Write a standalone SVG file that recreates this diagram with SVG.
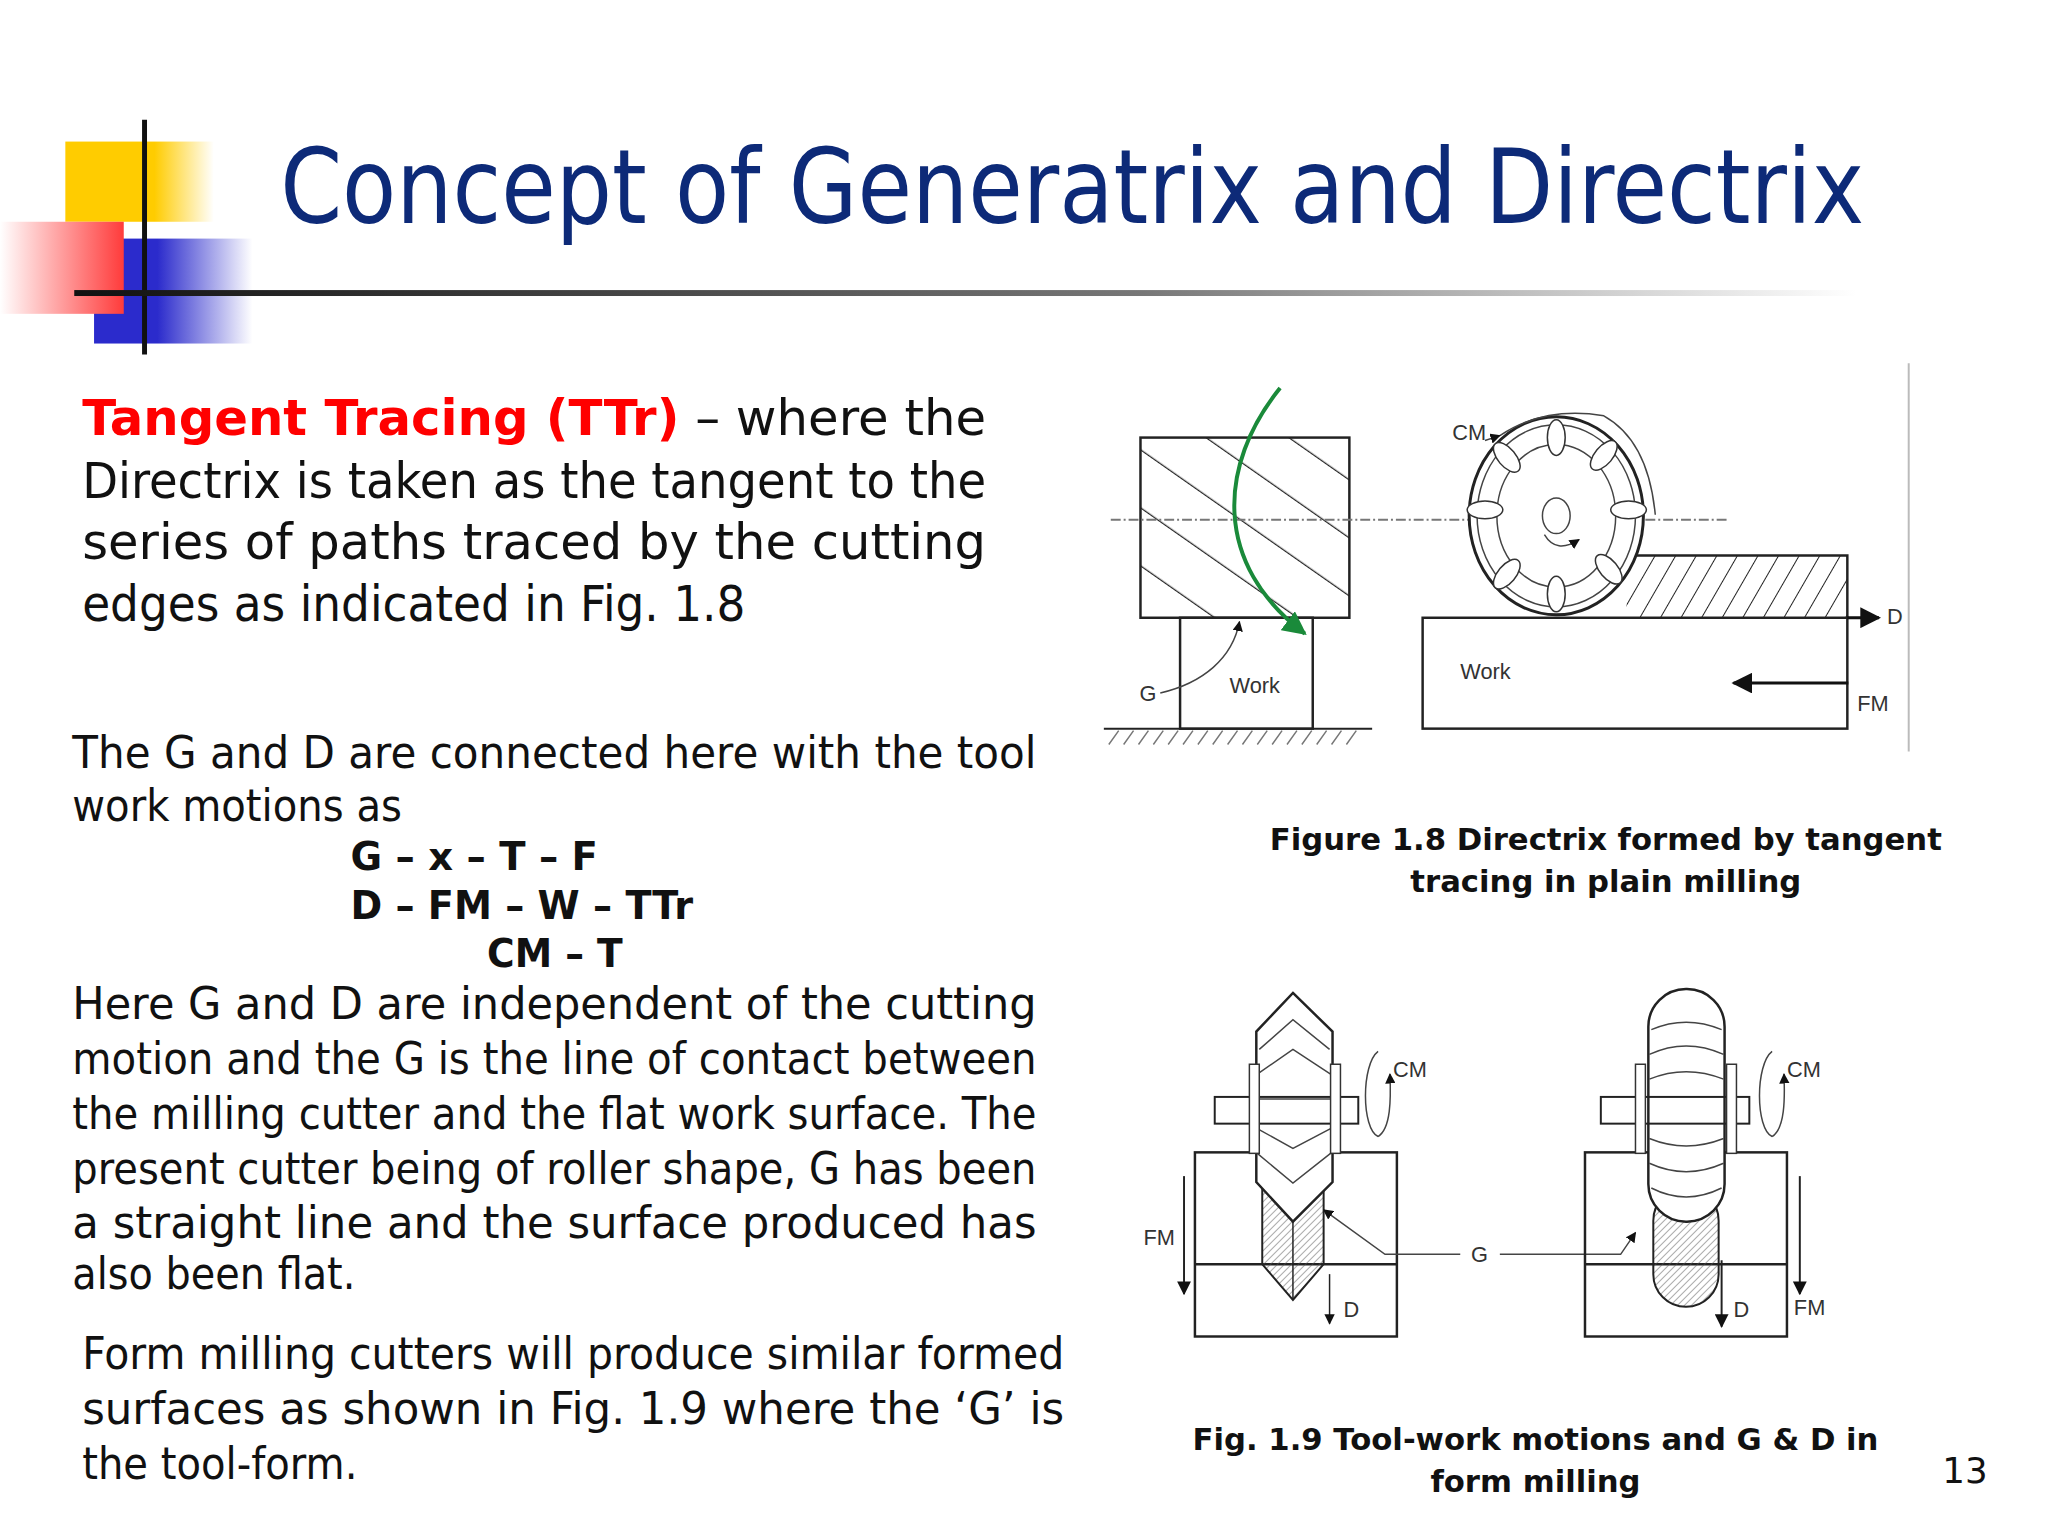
<svg xmlns="http://www.w3.org/2000/svg" width="2048" height="1536" viewBox="0 0 2048 1536">
<defs>
<linearGradient id="hl" x1="0" x2="1"><stop offset="0" stop-color="#111"/><stop offset="0.6" stop-color="#777"/><stop offset="1" stop-color="#fff"/></linearGradient>
<linearGradient id="red" x1="1" x2="0"><stop offset="0" stop-color="#ff3b3b"/><stop offset="1" stop-color="#fff"/></linearGradient>
<linearGradient id="yel" x1="0" x2="1"><stop offset="0.6" stop-color="#ffcc00"/><stop offset="1" stop-color="#fff"/></linearGradient>
<linearGradient id="blu" x1="0" x2="1"><stop offset="0.4" stop-color="#2b2bcc"/><stop offset="1" stop-color="#fff"/></linearGradient>
<marker id="ah" viewBox="0 0 10 10" refX="9" refY="5" markerWidth="7" markerHeight="7" orient="auto"><path d="M0,0 L10,5 L0,10 z" fill="#111"/></marker>
<marker id="ag" viewBox="0 0 10 10" refX="9" refY="5" markerWidth="6" markerHeight="6" orient="auto"><path d="M0,0 L10,5 L0,10 z" fill="#1a8a3a"/></marker>
<pattern id="hatchL" width="48" height="48" patternUnits="userSpaceOnUse" patternTransform="rotate(-55)"><line x1="0" y1="0" x2="0" y2="48" stroke="#222" stroke-width="2.5"/></pattern>
<pattern id="hatch" width="18" height="18" patternUnits="userSpaceOnUse" patternTransform="rotate(30)"><line x1="0" y1="0" x2="0" y2="18" stroke="#222" stroke-width="2"/></pattern>
<pattern id="fine" width="5" height="5" patternUnits="userSpaceOnUse" patternTransform="rotate(45)"><line x1="0" y1="0" x2="0" y2="5" stroke="#555" stroke-width="1"/></pattern>
</defs>
<style>
.t{font-family:"DejaVu Sans","Liberation Sans",sans-serif;fill:#111}
.b{font-size:51px}
.s{font-size:45px}
.bold{font-weight:bold}
.cap{font-family:"DejaVu Sans",sans-serif;font-weight:bold;font-size:31px;fill:#111;text-anchor:middle}
.l{fill:none;stroke:#222;stroke-width:2.5}
.th{fill:none;stroke:#444;stroke-width:1.5}
.lab{font-family:"Liberation Sans",sans-serif;font-size:22px;fill:#333}
</style>
<rect width="2048" height="1536" fill="#fff"/>
<g transform="scale(0.99)">
<g id="deco">
<rect x="66" y="143" width="150" height="81" fill="url(#yel)"/>
<rect x="95" y="241" width="160" height="106" fill="url(#blu)"/>
<rect x="0" y="224" width="125" height="93" fill="url(#red)"/>
<line x1="146" y1="121" x2="146" y2="358" stroke="#111" stroke-width="5"/>
<rect x="75" y="293" width="1800" height="6" fill="url(#hl)"/>
</g>
<text id="title" x="283" y="225" font-family="DejaVu Sans,sans-serif" font-size="104" fill="#0d2a78" textLength="1600" lengthAdjust="spacingAndGlyphs">Concept of Generatrix and Directrix</text>
<g id="para1" class="t b">
<text x="83" y="439" textLength="913" lengthAdjust="spacingAndGlyphs"><tspan fill="#ff0000" font-weight="bold">Tangent Tracing (TTr)</tspan> – where the</text>
<text x="83" y="503" textLength="913" lengthAdjust="spacingAndGlyphs">Directrix is taken as the tangent to the</text>
<text x="83" y="565" textLength="913" lengthAdjust="spacingAndGlyphs">series of paths traced by the cutting</text>
<text x="83" y="627" textLength="670" lengthAdjust="spacingAndGlyphs">edges as indicated in Fig. 1.8</text>
</g>
<g id="para2" class="t s">
<text x="73" y="776" textLength="974" lengthAdjust="spacingAndGlyphs">The G and D are connected here with the tool</text>
<text x="73" y="829" textLength="333" lengthAdjust="spacingAndGlyphs">work motions as</text>
<text x="354" y="879" class="bold" font-size="40" textLength="250" lengthAdjust="spacingAndGlyphs">G – x – T – F</text>
<text x="354" y="928" class="bold" font-size="40" textLength="346" lengthAdjust="spacingAndGlyphs">D – FM – W – TTr</text>
<text x="492" y="977" class="bold" font-size="40" textLength="137" lengthAdjust="spacingAndGlyphs">CM – T</text>
<text x="73" y="1029" textLength="974" lengthAdjust="spacingAndGlyphs">Here G and D are independent of the cutting</text>
<text x="73" y="1085" textLength="974" lengthAdjust="spacingAndGlyphs">motion and the G is the line of contact between</text>
<text x="73" y="1140" textLength="974" lengthAdjust="spacingAndGlyphs">the milling cutter and the flat work surface. The</text>
<text x="73" y="1196" textLength="974" lengthAdjust="spacingAndGlyphs">present cutter being of roller shape, G has been</text>
<text x="73" y="1251" textLength="974" lengthAdjust="spacingAndGlyphs">a straight line and the surface produced has</text>
<text x="73" y="1302" textLength="286" lengthAdjust="spacingAndGlyphs">also been flat.</text>
</g>
<g id="para3" class="t s">
<text x="83" y="1383" textLength="992" lengthAdjust="spacingAndGlyphs">Form milling cutters will produce similar formed</text>
<text x="83" y="1438" textLength="992" lengthAdjust="spacingAndGlyphs">surfaces as shown in Fig. 1.9 where the ‘G’ is</text>
<text x="83" y="1494" textLength="278" lengthAdjust="spacingAndGlyphs">the tool-form.</text>
</g>
<g id="fig18">
<line x1="1928" y1="367" x2="1928" y2="759" stroke="#bbb" stroke-width="2"/>
<rect x="1152" y="442" width="211" height="182" fill="url(#hatchL)"/>
<rect x="1152" y="442" width="211" height="182" class="l" stroke-width="3"/>
<line x1="1122" y1="525" x2="1745" y2="525" stroke="#777" stroke-width="2" stroke-dasharray="10,3,2,3"/>
<rect x="1192" y="624" width="134" height="112" class="l"/>
<line x1="1115" y1="736" x2="1386" y2="736" stroke="#222" stroke-width="2"/>
<path d="M1120,752 l10,-14 M1135,752 l10,-14 M1150,752 l10,-14 M1165,752 l10,-14 M1180,752 l10,-14 M1195,752 l10,-14 M1210,752 l10,-14 M1225,752 l10,-14 M1240,752 l10,-14 M1255,752 l10,-14 M1270,752 l10,-14 M1285,752 l10,-14 M1300,752 l10,-14 M1315,752 l10,-14 M1330,752 l10,-14 M1345,752 l10,-14 M1360,752 l10,-14" stroke="#777" stroke-width="1.5"/>
<path d="M1293,392 C1230,470 1225,570 1318,640" fill="none" stroke="#1a8a3a" stroke-width="4" marker-end="url(#ag)"/>
<path d="M1172,700 C1215,690 1245,665 1252,628" class="th" marker-end="url(#ah)"/>
<text x="1151" y="708" class="lab">G</text>
<text x="1242" y="700" class="lab">Work</text>
<rect x="1437" y="624" width="429" height="112" class="l"/>
<rect x="1643" y="561" width="223" height="63" fill="url(#hatch)"/>
<path d="M1643,561 H1866 V624" class="l"/>
<ellipse cx="1572" cy="521" rx="88" ry="100" fill="#fff" stroke="#222" stroke-width="3"/>
<ellipse cx="1572" cy="521" rx="80" ry="92" class="th"/>
<ellipse cx="1572" cy="521" rx="60" ry="72" class="th"/>
<g fill="#fff" stroke="#333" stroke-width="1.5">
<ellipse cx="1572" cy="442" rx="9" ry="18"/><ellipse cx="1620" cy="460" rx="9" ry="18" transform="rotate(40 1620 460)"/>
<ellipse cx="1645" cy="515" rx="18" ry="9"/><ellipse cx="1625" cy="575" rx="9" ry="18" transform="rotate(-40 1625 575)"/>
<ellipse cx="1572" cy="600" rx="9" ry="18"/><ellipse cx="1522" cy="580" rx="9" ry="18" transform="rotate(40 1522 580)"/>
<ellipse cx="1500" cy="515" rx="18" ry="9"/><ellipse cx="1522" cy="462" rx="9" ry="18" transform="rotate(-40 1522 462)"/>
</g>
<ellipse cx="1572" cy="521" rx="14" ry="18" class="th"/>
<path d="M1560,540 Q1572,560 1595,545" class="th" marker-end="url(#ah)"/>
<path d="M1515,440 Q1560,410 1620,420 Q1665,445 1672,520" class="th"/>
<path d="M1500,445 L1515,440" class="th" marker-end="url(#ah)"/>
<text x="1467" y="444" class="lab">CM</text>
<line x1="1866" y1="624" x2="1898" y2="624" stroke="#111" stroke-width="3" marker-end="url(#ah)"/>
<text x="1906" y="630" class="lab" font-size="14">D</text>
<line x1="1867" y1="690" x2="1751" y2="690" stroke="#111" stroke-width="3" marker-end="url(#ah)"/>
<text x="1475" y="686" class="lab">Work</text>
<text x="1876" y="718" class="lab" font-size="14">FM</text>
</g>
<text class="cap" x="1622" y="859">Figure 1.8 Directrix formed by tangent</text>
<text class="cap" x="1622" y="901">tracing in plain milling</text>
<g id="fig19">
<rect x="1207" y="1164" width="204" height="186" class="l"/>
<line x1="1207" y1="1277" x2="1411" y2="1277" class="l"/>
<path d="M1275,1194 L1275,1277 L1306,1313 L1337,1277 L1337,1194 Z" fill="url(#fine)" stroke="#222" stroke-width="2"/>
<line x1="1306" y1="1234" x2="1306" y2="1313" stroke="#222" stroke-width="1.5"/>
<path d="M1306,1003 L1346,1042 L1346,1194 L1306,1234 L1269,1194 L1269,1042 Z" fill="#fff" stroke="#222" stroke-width="2.5"/>
<g class="th"><path d="M1272,1060 L1306,1030 L1343,1060"/><path d="M1270,1085 L1306,1060 L1344,1085"/><path d="M1270,1140 L1306,1160 L1344,1140"/><path d="M1270,1165 L1306,1195 L1344,1165"/><path d="M1270,1110 L1344,1110"/></g>
<rect x="1227" y="1108" width="145" height="27" fill="none" stroke="#222" stroke-width="2"/>
<rect x="1262" y="1075" width="10" height="90" fill="#fff" stroke="#333" stroke-width="1.5"/>
<rect x="1344" y="1075" width="10" height="90" fill="#fff" stroke="#333" stroke-width="1.5"/>
<path d="M1392,1148 C1375,1140 1375,1075 1392,1062" class="th"/>
<path d="M1392,1148 C1405,1140 1405,1110 1404,1085" class="th" marker-end="url(#ah)"/>
<text x="1407" y="1088" class="lab">CM</text>
<line x1="1196" y1="1188" x2="1196" y2="1307" stroke="#222" stroke-width="2" marker-end="url(#ah)"/>
<text x="1155" y="1258" class="lab">FM</text>
<line x1="1343" y1="1287" x2="1343" y2="1337" stroke="#222" stroke-width="1.5" marker-end="url(#ah)"/>
<text x="1357" y="1330" class="lab">D</text>
<path d="M1475,1267 H1399 L1337,1222" class="th" marker-end="url(#ah)"/>
<text x="1486" y="1275" class="lab">G</text>
<path d="M1515,1267 H1637 L1652,1245" class="th" marker-end="url(#ah)"/>
<rect x="1601" y="1164" width="204" height="186" class="l"/>
<line x1="1601" y1="1277" x2="1805" y2="1277" class="l"/>
<rect x="1670" y="1200" width="66" height="120" rx="33" fill="url(#fine)" stroke="#222" stroke-width="2"/>
<rect x="1665" y="999" width="77" height="235" rx="38" fill="#fff" stroke="#222" stroke-width="2.5"/>
<g class="th"><path d="M1668,1040 Q1703,1025 1739,1040"/><path d="M1666,1065 Q1703,1048 1741,1065"/><path d="M1666,1090 Q1703,1075 1741,1090"/><path d="M1666,1150 Q1703,1165 1741,1150"/><path d="M1666,1175 Q1703,1192 1741,1175"/><path d="M1668,1200 Q1703,1218 1739,1200"/></g>
<rect x="1617" y="1108" width="150" height="27" fill="none" stroke="#222" stroke-width="2"/>
<rect x="1652" y="1075" width="10" height="90" fill="#fff" stroke="#333" stroke-width="1.5"/>
<rect x="1744" y="1075" width="10" height="90" fill="#fff" stroke="#333" stroke-width="1.5"/>
<path d="M1790,1148 C1773,1140 1773,1075 1790,1062" class="th"/>
<path d="M1790,1148 C1803,1140 1803,1110 1802,1085" class="th" marker-end="url(#ah)"/>
<text x="1805" y="1088" class="lab">CM</text>
<line x1="1818" y1="1188" x2="1818" y2="1307" stroke="#222" stroke-width="2" marker-end="url(#ah)"/>
<text x="1812" y="1328" class="lab">FM</text>
<line x1="1739" y1="1273" x2="1739" y2="1340" stroke="#222" stroke-width="2" marker-end="url(#ah)"/>
<text x="1751" y="1330" class="lab">D</text>
</g>
<text class="cap" x="1551" y="1465">Fig. 1.9 Tool-work motions and G &amp; D in</text>
<text class="cap" x="1551" y="1507">form milling</text>
<text x="1962" y="1498" font-family="DejaVu Sans,sans-serif" font-size="36" fill="#111">13</text>
</g>
</svg>
